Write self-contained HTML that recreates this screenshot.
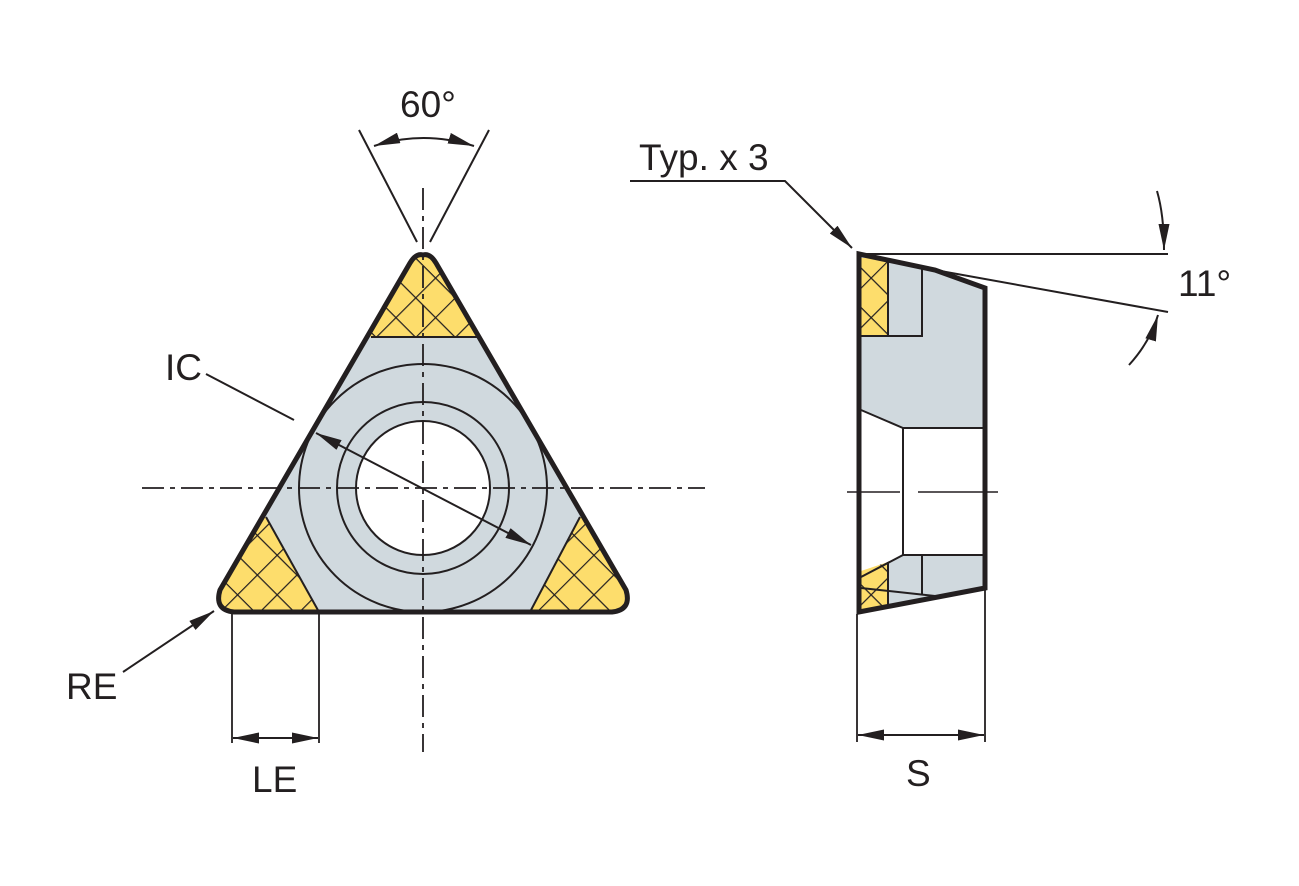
<!DOCTYPE html>
<html><head><meta charset="utf-8"><style>
html,body{margin:0;padding:0;background:#fff;}
svg{display:block;}
text{font-family:"Liberation Sans",sans-serif;font-size:37px;fill:#231f20;}
</style></head><body>
<svg width="1299" height="886" viewBox="0 0 1299 886" xmlns="http://www.w3.org/2000/svg">
<defs>
<pattern id="hx" patternUnits="userSpaceOnUse" width="28" height="28" patternTransform="rotate(45)">
<rect width="28" height="28" fill="#fddd6c"/>
<line x1="0" y1="0" x2="28" y2="0" stroke="#231f20" stroke-width="2.4"/>
<line x1="0" y1="0" x2="0" y2="28" stroke="#231f20" stroke-width="2.4"/>
</pattern>
<marker id="ar" viewBox="0 0 26 11" refX="26" refY="5.5" markerWidth="26" markerHeight="11" markerUnits="userSpaceOnUse" orient="auto">
<path d="M0,0 L26,5.5 L0,11 Z" fill="#231f20"/>
</marker>
<marker id="al" viewBox="0 0 26 11" refX="0" refY="5.5" markerWidth="26" markerHeight="11" markerUnits="userSpaceOnUse" orient="auto">
<path d="M26,0 L0,5.5 L26,11 Z" fill="#231f20"/>
</marker>
<clipPath id="tri"><path d="M423,255 Q430,253 436,263 L626,590 Q632,610 612,612 L234,612 Q214,610 220,590 L410,263 Q416,253 423,255 Z"/></clipPath>
</defs>

<g clip-path="url(#tri)">
<rect x="200" y="240" width="450" height="380" fill="#d0d9de"/>
<path d="M300,337 L546,337 L423,200 Z" fill="url(#hx)"/>
<path d="M371,337 L477,337" stroke="#231f20" stroke-width="2"/>
<path d="M266,517 L319,612 L200,612 L200,500 Z" fill="url(#hx)"/>
<path d="M266,517 L319,612" stroke="#231f20" stroke-width="2"/>
<path d="M580,517 L530,612 L650,612 L650,500 Z" fill="url(#hx)"/>
<path d="M580,517 L530,612" stroke="#231f20" stroke-width="2"/>
<circle cx="423" cy="488" r="124" fill="none" stroke="#231f20" stroke-width="2"/>
<circle cx="423" cy="488" r="86" fill="none" stroke="#231f20" stroke-width="2"/>
<circle cx="423" cy="488" r="67" fill="#fff" stroke="#231f20" stroke-width="2"/>
</g>
<path d="M423,255 Q430,253 436,263 L626,590 Q632,610 612,612 L234,612 Q214,610 220,590 L410,263 Q416,253 423,255 Z" fill="none" stroke="#231f20" stroke-width="5" stroke-linejoin="round"/>

<line x1="423" y1="188" x2="423" y2="752" stroke="#231f20" stroke-width="1.8" stroke-dasharray="22,6,5,6"/>
<line x1="142" y1="488" x2="705" y2="488" stroke="#231f20" stroke-width="1.8" stroke-dasharray="22,6,5,6"/>

<line x1="316" y1="433" x2="531" y2="545" stroke="#231f20" stroke-width="2" marker-start="url(#al)" marker-end="url(#ar)"/>
<line x1="206" y1="374" x2="294" y2="420" stroke="#231f20" stroke-width="2"/>
<text x="165" y="380">IC</text>

<line x1="359" y1="130" x2="417" y2="242" stroke="#231f20" stroke-width="2"/>
<line x1="489" y1="130" x2="430" y2="242" stroke="#231f20" stroke-width="2"/>
<path d="M374,146 Q423,130 474,146" fill="none" stroke="#231f20" stroke-width="2" marker-start="url(#al)" marker-end="url(#ar)"/>
<text x="400" y="117">60°</text>

<line x1="123" y1="672" x2="214" y2="611" stroke="#231f20" stroke-width="2" marker-end="url(#ar)"/>
<text x="66" y="699">RE</text>

<line x1="232" y1="614" x2="232" y2="743" stroke="#231f20" stroke-width="1.8"/>
<line x1="319" y1="614" x2="319" y2="743" stroke="#231f20" stroke-width="1.8"/>
<line x1="233" y1="738" x2="318" y2="738" stroke="#231f20" stroke-width="2" marker-start="url(#al)" marker-end="url(#ar)"/>
<text x="252" y="792">LE</text>

<path d="M859,254 L935,270 L985,288 L985,428 L903,428 L861,410 Z" fill="#d0d9de"/>
<path d="M861,577 L903,555 L985,555 L985,588 L859,612 Z" fill="#d0d9de"/>
<rect x="861" y="258" width="27" height="78" fill="url(#hx)"/>
<path d="M861,571 L888,562 L888,607 L861,611 Z" fill="url(#hx)"/>
<g stroke="#231f20" stroke-width="2" fill="none">
<path d="M888,258 L888,336 L922,336 L922,268"/>
<path d="M861,336 L888,336"/>
<path d="M861,410 L903,428 L985,428"/>
<path d="M903,428 L903,555"/>
<path d="M861,577 L903,555 L985,555"/>
<path d="M888,562 L888,607"/>
<path d="M922,555 L922,595"/>
<path d="M861,588 L935,596"/>
</g>
<path d="M859,254 L935,270 L985,288 L985,588 L859,612 Z" fill="none" stroke="#231f20" stroke-width="5" stroke-linejoin="miter"/>
<line x1="847" y1="492" x2="900" y2="492" stroke="#231f20" stroke-width="1.6"/>
<line x1="918" y1="492" x2="998" y2="492" stroke="#231f20" stroke-width="1.6"/>

<line x1="857" y1="614" x2="857" y2="742" stroke="#231f20" stroke-width="1.8"/>
<line x1="985" y1="590" x2="985" y2="742" stroke="#231f20" stroke-width="1.8"/>
<line x1="858" y1="735" x2="984" y2="735" stroke="#231f20" stroke-width="2" marker-start="url(#al)" marker-end="url(#ar)"/>
<text x="906" y="786">S</text>

<text x="639" y="170">Typ. x 3</text>
<path d="M630,181 L785,181 L852,248" fill="none" stroke="#231f20" stroke-width="2" marker-end="url(#ar)"/>

<line x1="859" y1="254" x2="1168" y2="254" stroke="#231f20" stroke-width="2"/>
<line x1="935" y1="270" x2="1168" y2="312" stroke="#231f20" stroke-width="2"/>
<path d="M1157,191 Q1164,215 1164,250" fill="none" stroke="#231f20" stroke-width="2" marker-end="url(#ar)"/>
<path d="M1129,365 Q1150,342 1158,315" fill="none" stroke="#231f20" stroke-width="2" marker-end="url(#ar)"/>
<text x="1178" y="296">11°</text>
</svg>
</body></html>
